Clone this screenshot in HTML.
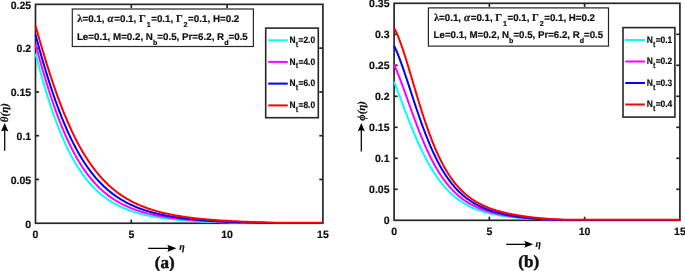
<!DOCTYPE html>
<html><head><meta charset="utf-8"><style>
html,body{margin:0;padding:0;background:#fff;}
body{width:685px;height:271px;overflow:hidden;}
svg{display:block;will-change:transform;text-rendering:geometricPrecision;}
text{font-family:"Liberation Sans",sans-serif;font-weight:bold;fill:#111;stroke:#111;stroke-width:0.2px;}
.tick text{font-size:10.5px;}
.info{font-size:9.8px;}
.lam{font-family:"Liberation Serif",serif;font-size:10.6px;font-weight:bold;}
.alp{font-family:"Liberation Serif",serif;font-style:italic;font-size:11.2px;font-weight:bold;}
.gam{font-family:"Liberation Serif",serif;font-size:10.6px;font-weight:bold;}
.sub{font-size:7.2px;}
.leg{font-size:9.3px;}
.lsub{font-size:8px;}
.lab{font-family:"Liberation Serif",serif;font-size:17px;stroke-width:0.5px;}
.axl{font-family:"Liberation Serif",serif;font-style:italic;font-size:10px;font-weight:bold;}
.ayl{font-family:"Liberation Serif",serif;font-style:italic;font-size:11px;font-weight:bold;}
</style></head><body>
<svg width="685" height="271" viewBox="0 0 685 271">
<g stroke="#262626" stroke-width="1.7" fill="none">
<rect x="35.5" y="4.35" width="287.40" height="218.90"/>
<line x1="131.30" y1="223.25" x2="131.30" y2="219.65"/>
<line x1="131.30" y1="4.35" x2="131.30" y2="7.949999999999999"/>
<line x1="227.10" y1="223.25" x2="227.10" y2="219.65"/>
<line x1="227.10" y1="4.35" x2="227.10" y2="7.949999999999999"/>
<line x1="35.5" y1="179.47" x2="39.1" y2="179.47"/>
<line x1="322.9" y1="179.47" x2="319.29999999999995" y2="179.47"/>
<line x1="35.5" y1="135.69" x2="39.1" y2="135.69"/>
<line x1="322.9" y1="135.69" x2="319.29999999999995" y2="135.69"/>
<line x1="35.5" y1="91.91" x2="39.1" y2="91.91"/>
<line x1="322.9" y1="91.91" x2="319.29999999999995" y2="91.91"/>
<line x1="35.5" y1="48.13" x2="39.1" y2="48.13"/>
<line x1="322.9" y1="48.13" x2="319.29999999999995" y2="48.13"/>
<rect x="394.1" y="3.3" width="285.80" height="217.00"/>
<line x1="489.37" y1="220.3" x2="489.37" y2="216.70000000000002"/>
<line x1="489.37" y1="3.3" x2="489.37" y2="6.9"/>
<line x1="584.63" y1="220.3" x2="584.63" y2="216.70000000000002"/>
<line x1="584.63" y1="3.3" x2="584.63" y2="6.9"/>
<line x1="394.1" y1="189.30" x2="397.70000000000005" y2="189.30"/>
<line x1="679.9" y1="189.30" x2="676.3" y2="189.30"/>
<line x1="394.1" y1="158.30" x2="397.70000000000005" y2="158.30"/>
<line x1="679.9" y1="158.30" x2="676.3" y2="158.30"/>
<line x1="394.1" y1="127.30" x2="397.70000000000005" y2="127.30"/>
<line x1="679.9" y1="127.30" x2="676.3" y2="127.30"/>
<line x1="394.1" y1="96.30" x2="397.70000000000005" y2="96.30"/>
<line x1="679.9" y1="96.30" x2="676.3" y2="96.30"/>
<line x1="394.1" y1="65.30" x2="397.70000000000005" y2="65.30"/>
<line x1="679.9" y1="65.30" x2="676.3" y2="65.30"/>
<line x1="394.1" y1="34.30" x2="397.70000000000005" y2="34.30"/>
<line x1="679.9" y1="34.30" x2="676.3" y2="34.30"/>
</g>
<g fill="none" stroke-width="2" stroke-linejoin="round" stroke-linecap="butt">
<path d="M35.5,53.67 L36.5,57.50 L37.5,61.29 L38.5,65.02 L39.5,68.70 L40.5,72.32 L41.5,75.89 L42.5,79.40 L43.5,82.85 L44.5,86.25 L45.5,89.58 L46.5,92.86 L47.5,96.08 L48.5,99.24 L49.5,102.34 L50.5,105.39 L51.5,108.37 L52.5,111.29 L53.5,114.16 L54.5,116.97 L55.5,119.71 L56.5,122.40 L57.5,125.04 L58.5,127.61 L59.5,130.13 L60.5,132.60 L61.5,135.00 L62.5,137.36 L63.5,139.66 L64.5,141.90 L65.5,144.10 L66.5,146.24 L67.5,148.33 L68.5,150.37 L69.5,152.35 L70.5,154.30 L71.5,156.19 L72.5,158.03 L73.5,159.83 L74.5,161.58 L75.5,163.29 L76.5,164.96 L77.5,166.58 L78.5,168.16 L79.5,169.69 L80.5,171.19 L81.5,172.65 L82.5,174.07 L83.5,175.45 L84.5,176.79 L85.5,178.10 L86.5,179.37 L87.5,180.61 L88.5,181.81 L89.5,182.98 L90.5,184.12 L91.5,185.23 L92.5,186.30 L93.5,187.35 L94.5,188.36 L95.5,189.35 L96.5,190.31 L97.5,191.24 L98.5,192.15 L99.5,193.03 L100.5,193.89 L101.5,194.72 L102.5,195.53 L103.5,196.31 L104.5,197.07 L105.5,197.81 L106.5,198.53 L107.5,199.23 L108.5,199.91 L109.5,200.57 L110.5,201.21 L111.5,201.83 L112.5,202.43 L113.5,203.02 L114.5,203.59 L115.5,204.14 L116.5,204.67 L117.5,205.19 L118.5,205.70 L119.5,206.19 L120.5,206.67 L121.5,207.13 L122.5,207.58 L123.5,208.02 L124.5,208.44 L125.5,208.85 L126.5,209.25 L127.5,209.64 L128.5,210.01 L129.5,210.38 L130.5,210.73 L131.5,211.08 L132.5,211.41 L133.5,211.74 L134.5,212.05 L135.5,212.36 L136.5,212.66 L137.5,212.95 L138.5,213.23 L139.5,213.50 L140.5,213.76 L141.5,214.02 L142.5,214.27 L143.5,214.51 L144.5,214.75 L145.5,214.98 L146.5,215.20 L147.5,215.42 L148.5,215.63 L149.5,215.83 L150.5,216.03 L151.5,216.22 L152.5,216.41 L153.5,216.59 L154.5,216.77 L155.5,216.94 L156.5,217.11 L157.5,217.27 L158.5,217.43 L159.5,217.58 L160.5,217.73 L161.5,217.88 L162.5,218.02 L163.5,218.16 L164.5,218.29 L165.5,218.42 L166.5,218.55 L167.5,218.67 L168.5,218.79 L169.5,218.91 L170.5,219.02 L171.5,219.13 L172.5,219.24 L173.5,219.34 L174.5,219.45 L175.5,219.54 L176.5,219.64 L177.5,219.74 L178.5,219.83 L179.5,219.92 L180.5,220.00 L181.5,220.09 L182.5,220.17 L183.5,220.25 L184.5,220.33 L185.5,220.40 L186.5,220.48 L187.5,220.55 L188.5,220.62 L189.5,220.69 L190.5,220.75 L191.5,220.82 L192.5,220.88 L193.5,220.94 L194.5,221.01 L195.5,221.06 L196.5,221.12 L197.5,221.18 L198.5,221.23 L199.5,221.28 L200.5,221.34 L201.5,221.39 L202.5,221.44 L203.5,221.48 L204.5,221.53 L205.5,221.58 L206.5,221.62 L207.5,221.66 L208.5,221.71 L209.5,221.75 L210.5,221.79 L211.5,221.83 L212.5,221.87 L213.5,221.90 L214.5,221.94 L215.5,221.98 L216.5,222.01 L217.5,222.05 L218.5,222.08 L219.5,222.11 L220.5,222.14 L221.5,222.17 L222.5,222.20 L223.5,222.23 L224.5,222.26 L225.5,222.29 L226.5,222.32 L227.5,222.34 L228.5,222.37 L229.5,222.40 L230.5,222.42 L231.5,222.45 L232.5,222.47 L233.5,222.49 L234.5,222.51 L235.5,222.54 L239.5,222.62 L243.5,222.69 L247.5,222.76 L251.5,222.82 L255.5,222.88 L259.5,222.93 L263.5,222.97 L267.5,223.01 L271.5,223.05 L275.5,223.05 L279.5,223.05 L283.5,223.05 L287.5,223.05 L291.5,223.05 L295.5,223.05 L299.5,223.05 L303.5,223.05 L307.5,223.05 L311.5,223.05 L315.5,223.05 L319.5,223.05 L322.9,223.05" stroke="#00ffff"/>
<path d="M35.5,44.17 L36.5,47.90 L37.5,51.59 L38.5,55.24 L39.5,58.84 L40.5,62.41 L41.5,65.93 L42.5,69.41 L43.5,72.84 L44.5,76.22 L45.5,79.55 L46.5,82.84 L47.5,86.07 L48.5,89.25 L49.5,92.38 L50.5,95.46 L51.5,98.49 L52.5,101.46 L53.5,104.38 L54.5,107.25 L55.5,110.07 L56.5,112.83 L57.5,115.54 L58.5,118.20 L59.5,120.80 L60.5,123.35 L61.5,125.85 L62.5,128.30 L63.5,130.70 L64.5,133.04 L65.5,135.34 L66.5,137.58 L67.5,139.78 L68.5,141.93 L69.5,144.03 L70.5,146.08 L71.5,148.08 L72.5,150.04 L73.5,151.95 L74.5,153.81 L75.5,155.64 L76.5,157.41 L77.5,159.15 L78.5,160.84 L79.5,162.49 L80.5,164.10 L81.5,165.67 L82.5,167.20 L83.5,168.70 L84.5,170.15 L85.5,171.57 L86.5,172.95 L87.5,174.30 L88.5,175.61 L89.5,176.88 L90.5,178.13 L91.5,179.34 L92.5,180.52 L93.5,181.67 L94.5,182.78 L95.5,183.87 L96.5,184.93 L97.5,185.96 L98.5,186.96 L99.5,187.94 L100.5,188.89 L101.5,189.81 L102.5,190.71 L103.5,191.59 L104.5,192.44 L105.5,193.26 L106.5,194.07 L107.5,194.85 L108.5,195.61 L109.5,196.35 L110.5,197.07 L111.5,197.77 L112.5,198.45 L113.5,199.11 L114.5,199.75 L115.5,200.38 L116.5,200.99 L117.5,201.58 L118.5,202.15 L119.5,202.71 L120.5,203.26 L121.5,203.78 L122.5,204.30 L123.5,204.80 L124.5,205.28 L125.5,205.75 L126.5,206.21 L127.5,206.66 L128.5,207.09 L129.5,207.51 L130.5,207.92 L131.5,208.32 L132.5,208.71 L133.5,209.09 L134.5,209.45 L135.5,209.81 L136.5,210.16 L137.5,210.49 L138.5,210.82 L139.5,211.14 L140.5,211.45 L141.5,211.75 L142.5,212.05 L143.5,212.33 L144.5,212.61 L145.5,212.88 L146.5,213.14 L147.5,213.40 L148.5,213.65 L149.5,213.89 L150.5,214.12 L151.5,214.35 L152.5,214.58 L153.5,214.79 L154.5,215.00 L155.5,215.21 L156.5,215.41 L157.5,215.61 L158.5,215.80 L159.5,215.98 L160.5,216.16 L161.5,216.34 L162.5,216.51 L163.5,216.67 L164.5,216.83 L165.5,216.99 L166.5,217.15 L167.5,217.30 L168.5,217.44 L169.5,217.58 L170.5,217.72 L171.5,217.86 L172.5,217.99 L173.5,218.12 L174.5,218.24 L175.5,218.36 L176.5,218.48 L177.5,218.60 L178.5,218.71 L179.5,218.82 L180.5,218.93 L181.5,219.03 L182.5,219.14 L183.5,219.24 L184.5,219.33 L185.5,219.43 L186.5,219.52 L187.5,219.61 L188.5,219.70 L189.5,219.79 L190.5,219.87 L191.5,219.95 L192.5,220.03 L193.5,220.11 L194.5,220.19 L195.5,220.26 L196.5,220.34 L197.5,220.41 L198.5,220.48 L199.5,220.55 L200.5,220.61 L201.5,220.68 L202.5,220.74 L203.5,220.80 L204.5,220.86 L205.5,220.92 L206.5,220.98 L207.5,221.04 L208.5,221.09 L209.5,221.15 L210.5,221.20 L211.5,221.25 L212.5,221.30 L213.5,221.35 L214.5,221.40 L215.5,221.45 L216.5,221.49 L217.5,221.54 L218.5,221.58 L219.5,221.63 L220.5,221.67 L221.5,221.71 L222.5,221.75 L223.5,221.79 L224.5,221.83 L225.5,221.87 L226.5,221.91 L227.5,221.94 L228.5,221.98 L229.5,222.01 L230.5,222.05 L231.5,222.08 L232.5,222.11 L233.5,222.14 L234.5,222.17 L235.5,222.21 L239.5,222.32 L243.5,222.43 L247.5,222.52 L251.5,222.61 L255.5,222.69 L259.5,222.76 L263.5,222.82 L267.5,222.88 L271.5,222.93 L275.5,222.95 L279.5,222.95 L283.5,222.95 L287.5,222.95 L291.5,222.95 L295.5,222.95 L299.5,222.95 L303.5,222.95 L307.5,222.95 L311.5,222.95 L315.5,222.95 L319.5,222.95 L322.9,222.95" stroke="#ff00ff"/>
<path d="M35.5,34.86 L36.5,38.56 L37.5,42.22 L38.5,45.85 L39.5,49.43 L40.5,52.98 L41.5,56.48 L42.5,59.94 L43.5,63.36 L44.5,66.74 L45.5,70.07 L46.5,73.35 L47.5,76.58 L48.5,79.77 L49.5,82.91 L50.5,86.00 L51.5,89.05 L52.5,92.04 L53.5,94.98 L54.5,97.88 L55.5,100.72 L56.5,103.52 L57.5,106.27 L58.5,108.96 L59.5,111.61 L60.5,114.21 L61.5,116.75 L62.5,119.25 L63.5,121.71 L64.5,124.11 L65.5,126.46 L66.5,128.77 L67.5,131.03 L68.5,133.25 L69.5,135.41 L70.5,137.54 L71.5,139.61 L72.5,141.65 L73.5,143.64 L74.5,145.58 L75.5,147.48 L76.5,149.35 L77.5,151.16 L78.5,152.94 L79.5,154.68 L80.5,156.38 L81.5,158.04 L82.5,159.66 L83.5,161.24 L84.5,162.79 L85.5,164.30 L86.5,165.77 L87.5,167.21 L88.5,168.62 L89.5,169.99 L90.5,171.32 L91.5,172.63 L92.5,173.90 L93.5,175.15 L94.5,176.36 L95.5,177.54 L96.5,178.69 L97.5,179.82 L98.5,180.92 L99.5,181.99 L100.5,183.03 L101.5,184.05 L102.5,185.04 L103.5,186.00 L104.5,186.94 L105.5,187.86 L106.5,188.76 L107.5,189.63 L108.5,190.48 L109.5,191.31 L110.5,192.12 L111.5,192.90 L112.5,193.67 L113.5,194.42 L114.5,195.14 L115.5,195.85 L116.5,196.54 L117.5,197.22 L118.5,197.87 L119.5,198.51 L120.5,199.13 L121.5,199.74 L122.5,200.33 L123.5,200.91 L124.5,201.47 L125.5,202.01 L126.5,202.55 L127.5,203.06 L128.5,203.57 L129.5,204.06 L130.5,204.54 L131.5,205.01 L132.5,205.46 L133.5,205.91 L134.5,206.34 L135.5,206.76 L136.5,207.17 L137.5,207.57 L138.5,207.96 L139.5,208.34 L140.5,208.71 L141.5,209.07 L142.5,209.42 L143.5,209.76 L144.5,210.10 L145.5,210.42 L146.5,210.74 L147.5,211.05 L148.5,211.35 L149.5,211.64 L150.5,211.93 L151.5,212.21 L152.5,212.48 L153.5,212.74 L154.5,213.00 L155.5,213.25 L156.5,213.50 L157.5,213.74 L158.5,213.97 L159.5,214.20 L160.5,214.42 L161.5,214.64 L162.5,214.85 L163.5,215.06 L164.5,215.26 L165.5,215.46 L166.5,215.65 L167.5,215.84 L168.5,216.02 L169.5,216.20 L170.5,216.37 L171.5,216.54 L172.5,216.70 L173.5,216.87 L174.5,217.02 L175.5,217.18 L176.5,217.33 L177.5,217.47 L178.5,217.62 L179.5,217.76 L180.5,217.89 L181.5,218.03 L182.5,218.16 L183.5,218.28 L184.5,218.41 L185.5,218.53 L186.5,218.65 L187.5,218.76 L188.5,218.88 L189.5,218.99 L190.5,219.09 L191.5,219.20 L192.5,219.30 L193.5,219.40 L194.5,219.50 L195.5,219.60 L196.5,219.69 L197.5,219.78 L198.5,219.87 L199.5,219.96 L200.5,220.04 L201.5,220.13 L202.5,220.21 L203.5,220.29 L204.5,220.37 L205.5,220.44 L206.5,220.52 L207.5,220.59 L208.5,220.66 L209.5,220.73 L210.5,220.80 L211.5,220.87 L212.5,220.93 L213.5,220.99 L214.5,221.06 L215.5,221.12 L216.5,221.18 L217.5,221.23 L218.5,221.29 L219.5,221.34 L220.5,221.40 L221.5,221.45 L222.5,221.50 L223.5,221.55 L224.5,221.60 L225.5,221.65 L226.5,221.70 L227.5,221.74 L228.5,221.79 L229.5,221.83 L230.5,221.87 L231.5,221.92 L232.5,221.96 L233.5,222.00 L234.5,222.04 L235.5,222.07 L239.5,222.22 L243.5,222.34 L247.5,222.46 L251.5,222.56 L255.5,222.66 L259.5,222.74 L263.5,222.82 L267.5,222.88 L271.5,222.90 L275.5,222.90 L279.5,222.90 L283.5,222.90 L287.5,222.90 L291.5,222.90 L295.5,222.90 L299.5,222.90 L303.5,222.90 L307.5,222.90 L311.5,222.90 L315.5,222.90 L319.5,222.90 L322.9,222.90" stroke="#0000ff"/>
<path d="M35.5,25.58 L36.5,29.15 L37.5,32.69 L38.5,36.21 L39.5,39.69 L40.5,43.15 L41.5,46.57 L42.5,49.96 L43.5,53.31 L44.5,56.63 L45.5,59.91 L46.5,63.16 L47.5,66.36 L48.5,69.52 L49.5,72.65 L50.5,75.73 L51.5,78.77 L52.5,81.77 L53.5,84.72 L54.5,87.63 L55.5,90.50 L56.5,93.33 L57.5,96.10 L58.5,98.84 L59.5,101.53 L60.5,104.18 L61.5,106.78 L62.5,109.34 L63.5,111.85 L64.5,114.32 L65.5,116.74 L66.5,119.12 L67.5,121.46 L68.5,123.75 L69.5,126.00 L70.5,128.21 L71.5,130.38 L72.5,132.50 L73.5,134.58 L74.5,136.62 L75.5,138.62 L76.5,140.57 L77.5,142.49 L78.5,144.37 L79.5,146.21 L80.5,148.01 L81.5,149.77 L82.5,151.50 L83.5,153.18 L84.5,154.83 L85.5,156.45 L86.5,158.03 L87.5,159.57 L88.5,161.08 L89.5,162.56 L90.5,164.00 L91.5,165.42 L92.5,166.80 L93.5,168.14 L94.5,169.46 L95.5,170.75 L96.5,172.00 L97.5,173.23 L98.5,174.43 L99.5,175.60 L100.5,176.74 L101.5,177.86 L102.5,178.95 L103.5,180.01 L104.5,181.05 L105.5,182.07 L106.5,183.06 L107.5,184.02 L108.5,184.97 L109.5,185.89 L110.5,186.79 L111.5,187.66 L112.5,188.52 L113.5,189.35 L114.5,190.16 L115.5,190.96 L116.5,191.73 L117.5,192.49 L118.5,193.23 L119.5,193.94 L120.5,194.65 L121.5,195.33 L122.5,196.00 L123.5,196.65 L124.5,197.28 L125.5,197.90 L126.5,198.51 L127.5,199.09 L128.5,199.67 L129.5,200.23 L130.5,200.78 L131.5,201.31 L132.5,201.83 L133.5,202.33 L134.5,202.83 L135.5,203.31 L136.5,203.78 L137.5,204.24 L138.5,204.69 L139.5,205.12 L140.5,205.55 L141.5,205.96 L142.5,206.37 L143.5,206.76 L144.5,207.15 L145.5,207.52 L146.5,207.89 L147.5,208.25 L148.5,208.60 L149.5,208.94 L150.5,209.27 L151.5,209.59 L152.5,209.91 L153.5,210.21 L154.5,210.51 L155.5,210.81 L156.5,211.09 L157.5,211.37 L158.5,211.65 L159.5,211.91 L160.5,212.17 L161.5,212.42 L162.5,212.67 L163.5,212.91 L164.5,213.15 L165.5,213.38 L166.5,213.60 L167.5,213.82 L168.5,214.04 L169.5,214.25 L170.5,214.45 L171.5,214.65 L172.5,214.84 L173.5,215.03 L174.5,215.22 L175.5,215.40 L176.5,215.58 L177.5,215.75 L178.5,215.92 L179.5,216.08 L180.5,216.25 L181.5,216.40 L182.5,216.56 L183.5,216.71 L184.5,216.85 L185.5,217.00 L186.5,217.14 L187.5,217.28 L188.5,217.41 L189.5,217.54 L190.5,217.67 L191.5,217.79 L192.5,217.92 L193.5,218.04 L194.5,218.15 L195.5,218.27 L196.5,218.38 L197.5,218.49 L198.5,218.60 L199.5,218.70 L200.5,218.81 L201.5,218.91 L202.5,219.01 L203.5,219.10 L204.5,219.20 L205.5,219.29 L206.5,219.38 L207.5,219.47 L208.5,219.55 L209.5,219.64 L210.5,219.72 L211.5,219.80 L212.5,219.88 L213.5,219.96 L214.5,220.03 L215.5,220.11 L216.5,220.18 L217.5,220.25 L218.5,220.32 L219.5,220.39 L220.5,220.46 L221.5,220.52 L222.5,220.59 L223.5,220.65 L224.5,220.71 L225.5,220.77 L226.5,220.83 L227.5,220.89 L228.5,220.95 L229.5,221.00 L230.5,221.06 L231.5,221.11 L232.5,221.16 L233.5,221.22 L234.5,221.27 L235.5,221.32 L239.5,221.50 L243.5,221.67 L247.5,221.83 L251.5,221.98 L255.5,222.11 L259.5,222.24 L263.5,222.35 L267.5,222.45 L271.5,222.55 L275.5,222.63 L279.5,222.71 L283.5,222.75 L287.5,222.75 L291.5,222.75 L295.5,222.75 L299.5,222.75 L303.5,222.75 L307.5,222.75 L311.5,222.75 L315.5,222.75 L319.5,222.75 L322.9,222.75" stroke="#ff0000"/>
<path d="M394.1,81.63 L395.1,84.20 L396.1,86.80 L397.1,89.41 L398.1,92.04 L399.1,94.69 L400.1,97.34 L401.1,99.99 L402.1,102.65 L403.1,105.30 L404.1,107.94 L405.1,110.57 L406.1,113.18 L407.1,115.78 L408.1,118.36 L409.1,120.91 L410.1,123.44 L411.1,125.94 L412.1,128.41 L413.1,130.85 L414.1,133.25 L415.1,135.62 L416.1,137.95 L417.1,140.25 L418.1,142.50 L419.1,144.72 L420.1,146.89 L421.1,149.02 L422.1,151.11 L423.1,153.16 L424.1,155.16 L425.1,157.12 L426.1,159.04 L427.1,160.91 L428.1,162.74 L429.1,164.52 L430.1,166.26 L431.1,167.96 L432.1,169.62 L433.1,171.23 L434.1,172.80 L435.1,174.32 L436.1,175.81 L437.1,177.25 L438.1,178.66 L439.1,180.02 L440.1,181.35 L441.1,182.64 L442.1,183.89 L443.1,185.10 L444.1,186.28 L445.1,187.42 L446.1,188.52 L447.1,189.60 L448.1,190.63 L449.1,191.64 L450.1,192.61 L451.1,193.56 L452.1,194.47 L453.1,195.36 L454.1,196.21 L455.1,197.04 L456.1,197.84 L457.1,198.61 L458.1,199.36 L459.1,200.08 L460.1,200.78 L461.1,201.46 L462.1,202.11 L463.1,202.74 L464.1,203.35 L465.1,203.94 L466.1,204.51 L467.1,205.06 L468.1,205.59 L469.1,206.10 L470.1,206.59 L471.1,207.07 L472.1,207.53 L473.1,207.97 L474.1,208.40 L475.1,208.81 L476.1,209.21 L477.1,209.60 L478.1,209.97 L479.1,210.33 L480.1,210.67 L481.1,211.01 L482.1,211.33 L483.1,211.64 L484.1,211.94 L485.1,212.23 L486.1,212.51 L487.1,212.78 L488.1,213.04 L489.1,213.29 L490.1,213.53 L491.1,213.76 L492.1,213.99 L493.1,214.20 L494.1,214.41 L495.1,214.62 L496.1,214.81 L497.1,215.00 L498.1,215.18 L499.1,215.36 L500.1,215.52 L501.1,215.69 L502.1,215.85 L503.1,216.00 L504.1,216.14 L505.1,216.29 L506.1,216.42 L507.1,216.55 L508.1,216.68 L509.1,216.81 L510.1,216.92 L511.1,217.04 L512.1,217.15 L513.1,217.26 L514.1,217.36 L515.1,217.46 L516.1,217.56 L517.1,217.65 L518.1,217.74 L519.1,217.83 L520.1,217.91 L521.1,217.99 L522.1,218.07 L523.1,218.15 L524.1,218.22 L525.1,218.29 L526.1,218.36 L527.1,218.43 L528.1,218.49 L529.1,218.55 L530.1,218.61 L531.1,218.67 L532.1,218.73 L533.1,218.78 L534.1,218.84 L535.1,218.89 L536.1,218.94 L537.1,218.98 L538.1,219.03 L539.1,219.07 L540.1,219.12 L541.1,219.16 L542.1,219.20 L543.1,219.24 L544.1,219.28 L545.1,219.31 L546.1,219.35 L547.1,219.38 L548.1,219.42 L549.1,219.45 L550.1,219.48 L551.1,219.51 L552.1,219.54 L553.1,219.57 L554.1,219.60 L555.1,219.62 L556.1,219.65 L557.1,219.67 L558.1,219.70 L559.1,219.72 L560.1,219.74 L561.1,219.76 L562.1,219.78 L563.1,219.80 L564.1,219.82 L565.1,219.84 L566.1,219.86 L567.1,219.88 L568.1,219.90 L569.1,219.91 L570.1,219.93 L571.1,219.94 L572.1,219.96 L573.1,219.97 L574.1,219.99 L575.1,220.00 L576.1,220.01 L577.1,220.03 L578.1,220.04 L579.1,220.05 L580.1,220.06 L581.1,220.07 L582.1,220.08 L583.1,220.09 L584.1,220.10 L585.1,220.10 L586.1,220.10 L587.1,220.10 L588.1,220.10 L589.1,220.10 L590.1,220.10 L591.1,220.10 L592.1,220.10 L593.1,220.10 L594.1,220.10 L598.1,220.10 L602.1,220.10 L606.1,220.10 L610.1,220.10 L614.1,220.10 L618.1,220.10 L622.1,220.10 L626.1,220.10 L630.1,220.10 L634.1,220.10 L638.1,220.10 L642.1,220.10 L646.1,220.10 L650.1,220.10 L654.1,220.10 L658.1,220.10 L662.1,220.10 L666.1,220.10 L670.1,220.10 L674.1,220.10 L678.1,220.10 L679.9,220.10" stroke="#00ffff"/>
<path d="M394.1,64.69 L395.1,66.92 L396.1,69.23 L397.1,71.63 L398.1,74.10 L399.1,76.63 L400.1,79.23 L401.1,81.87 L402.1,84.55 L403.1,87.27 L404.1,90.02 L405.1,92.79 L406.1,95.58 L407.1,98.38 L408.1,101.18 L409.1,103.98 L410.1,106.78 L411.1,109.56 L412.1,112.33 L413.1,115.09 L414.1,117.82 L415.1,120.52 L416.1,123.19 L417.1,125.84 L418.1,128.44 L419.1,131.01 L420.1,133.54 L421.1,136.03 L422.1,138.47 L423.1,140.87 L424.1,143.23 L425.1,145.54 L426.1,147.79 L427.1,150.00 L428.1,152.16 L429.1,154.27 L430.1,156.33 L431.1,158.34 L432.1,160.30 L433.1,162.21 L434.1,164.07 L435.1,165.88 L436.1,167.64 L437.1,169.35 L438.1,171.02 L439.1,172.63 L440.1,174.20 L441.1,175.73 L442.1,177.20 L443.1,178.64 L444.1,180.03 L445.1,181.37 L446.1,182.68 L447.1,183.94 L448.1,185.17 L449.1,186.35 L450.1,187.50 L451.1,188.60 L452.1,189.68 L453.1,190.72 L454.1,191.72 L455.1,192.69 L456.1,193.63 L457.1,194.53 L458.1,195.41 L459.1,196.25 L460.1,197.07 L461.1,197.86 L462.1,198.62 L463.1,199.36 L464.1,200.07 L465.1,200.76 L466.1,201.42 L467.1,202.06 L468.1,202.68 L469.1,203.27 L470.1,203.85 L471.1,204.41 L472.1,204.94 L473.1,205.46 L474.1,205.96 L475.1,206.45 L476.1,206.91 L477.1,207.36 L478.1,207.80 L479.1,208.22 L480.1,208.63 L481.1,209.02 L482.1,209.40 L483.1,209.76 L484.1,210.12 L485.1,210.46 L486.1,210.79 L487.1,211.11 L488.1,211.41 L489.1,211.71 L490.1,212.00 L491.1,212.28 L492.1,212.55 L493.1,212.81 L494.1,213.06 L495.1,213.30 L496.1,213.54 L497.1,213.77 L498.1,213.99 L499.1,214.20 L500.1,214.41 L501.1,214.61 L502.1,214.80 L503.1,214.99 L504.1,215.17 L505.1,215.35 L506.1,215.52 L507.1,215.68 L508.1,215.84 L509.1,216.00 L510.1,216.15 L511.1,216.29 L512.1,216.44 L513.1,216.57 L514.1,216.71 L515.1,216.83 L516.1,216.96 L517.1,217.08 L518.1,217.20 L519.1,217.31 L520.1,217.42 L521.1,217.53 L522.1,217.63 L523.1,217.73 L524.1,217.83 L525.1,217.93 L526.1,218.02 L527.1,218.11 L528.1,218.19 L529.1,218.28 L530.1,218.36 L531.1,218.44 L532.1,218.51 L533.1,218.59 L534.1,218.66 L535.1,218.73 L536.1,218.79 L537.1,218.86 L538.1,218.92 L539.1,218.98 L540.1,219.04 L541.1,219.10 L542.1,219.15 L543.1,219.21 L544.1,219.26 L545.1,219.31 L546.1,219.36 L547.1,219.40 L548.1,219.45 L549.1,219.49 L550.1,219.53 L551.1,219.57 L552.1,219.61 L553.1,219.65 L554.1,219.68 L555.1,219.72 L556.1,219.75 L557.1,219.78 L558.1,219.81 L559.1,219.84 L560.1,219.87 L561.1,219.89 L562.1,219.92 L563.1,219.94 L564.1,219.96 L565.1,219.98 L566.1,220.00 L567.1,220.00 L568.1,220.00 L569.1,220.00 L570.1,220.00 L571.1,220.00 L572.1,220.00 L573.1,220.00 L574.1,220.00 L575.1,220.00 L576.1,220.00 L577.1,220.00 L578.1,220.00 L579.1,220.00 L580.1,220.00 L581.1,220.00 L582.1,220.00 L583.1,220.00 L584.1,220.00 L585.1,220.00 L586.1,220.00 L587.1,220.00 L588.1,220.00 L589.1,220.00 L590.1,220.00 L591.1,220.00 L592.1,220.00 L593.1,220.00 L594.1,220.00 L598.1,220.00 L602.1,220.00 L606.1,220.00 L610.1,220.00 L614.1,220.00 L618.1,220.00 L622.1,220.00 L626.1,220.00 L630.1,220.00 L634.1,220.00 L638.1,220.00 L642.1,220.00 L646.1,220.00 L650.1,220.00 L654.1,220.00 L658.1,220.00 L662.1,220.00 L666.1,220.00 L670.1,220.00 L674.1,220.00 L678.1,220.00 L679.9,220.00" stroke="#ff00ff"/>
<path d="M394.1,45.79 L395.1,47.88 L396.1,50.11 L397.1,52.44 L398.1,54.89 L399.1,57.44 L400.1,60.07 L401.1,62.78 L402.1,65.57 L403.1,68.41 L404.1,71.31 L405.1,74.25 L406.1,77.23 L407.1,80.24 L408.1,83.27 L409.1,86.32 L410.1,89.38 L411.1,92.44 L412.1,95.49 L413.1,98.54 L414.1,101.57 L415.1,104.59 L416.1,107.58 L417.1,110.54 L418.1,113.47 L419.1,116.37 L420.1,119.23 L421.1,122.05 L422.1,124.83 L423.1,127.56 L424.1,130.24 L425.1,132.88 L426.1,135.46 L427.1,137.99 L428.1,140.47 L429.1,142.90 L430.1,145.27 L431.1,147.59 L432.1,149.85 L433.1,152.05 L434.1,154.20 L435.1,156.30 L436.1,158.34 L437.1,160.33 L438.1,162.26 L439.1,164.13 L440.1,165.96 L441.1,167.73 L442.1,169.45 L443.1,171.12 L444.1,172.74 L445.1,174.31 L446.1,175.84 L447.1,177.31 L448.1,178.74 L449.1,180.13 L450.1,181.47 L451.1,182.77 L452.1,184.02 L453.1,185.24 L454.1,186.42 L455.1,187.55 L456.1,188.65 L457.1,189.72 L458.1,190.75 L459.1,191.74 L460.1,192.70 L461.1,193.63 L462.1,194.53 L463.1,195.40 L464.1,196.23 L465.1,197.04 L466.1,197.83 L467.1,198.58 L468.1,199.31 L469.1,200.02 L470.1,200.70 L471.1,201.36 L472.1,201.99 L473.1,202.61 L474.1,203.20 L475.1,203.77 L476.1,204.33 L477.1,204.86 L478.1,205.38 L479.1,205.88 L480.1,206.36 L481.1,206.83 L482.1,207.28 L483.1,207.72 L484.1,208.14 L485.1,208.55 L486.1,208.94 L487.1,209.33 L488.1,209.70 L489.1,210.05 L490.1,210.40 L491.1,210.73 L492.1,211.06 L493.1,211.37 L494.1,211.67 L495.1,211.97 L496.1,212.25 L497.1,212.53 L498.1,212.79 L499.1,213.05 L500.1,213.30 L501.1,213.55 L502.1,213.78 L503.1,214.01 L504.1,214.23 L505.1,214.44 L506.1,214.65 L507.1,214.85 L508.1,215.05 L509.1,215.24 L510.1,215.42 L511.1,215.60 L512.1,215.77 L513.1,215.94 L514.1,216.10 L515.1,216.26 L516.1,216.42 L517.1,216.56 L518.1,216.71 L519.1,216.85 L520.1,216.98 L521.1,217.11 L522.1,217.24 L523.1,217.37 L524.1,217.49 L525.1,217.60 L526.1,217.71 L527.1,217.82 L528.1,217.93 L529.1,218.03 L530.1,218.13 L531.1,218.23 L532.1,218.32 L533.1,218.41 L534.1,218.50 L535.1,218.58 L536.1,218.66 L537.1,218.74 L538.1,218.82 L539.1,218.89 L540.1,218.96 L541.1,219.03 L542.1,219.09 L543.1,219.16 L544.1,219.22 L545.1,219.28 L546.1,219.33 L547.1,219.39 L548.1,219.44 L549.1,219.49 L550.1,219.53 L551.1,219.58 L552.1,219.62 L553.1,219.66 L554.1,219.70 L555.1,219.74 L556.1,219.78 L557.1,219.81 L558.1,219.84 L559.1,219.88 L560.1,219.91 L561.1,219.93 L562.1,219.95 L563.1,219.95 L564.1,219.95 L565.1,219.95 L566.1,219.95 L567.1,219.95 L568.1,219.95 L569.1,219.95 L570.1,219.95 L571.1,219.95 L572.1,219.95 L573.1,219.95 L574.1,219.95 L575.1,219.95 L576.1,219.95 L577.1,219.95 L578.1,219.95 L579.1,219.95 L580.1,219.95 L581.1,219.95 L582.1,219.95 L583.1,219.95 L584.1,219.95 L585.1,219.95 L586.1,219.95 L587.1,219.95 L588.1,219.95 L589.1,219.95 L590.1,219.95 L591.1,219.95 L592.1,219.95 L593.1,219.95 L594.1,219.95 L598.1,219.95 L602.1,219.95 L606.1,219.95 L610.1,219.95 L614.1,219.95 L618.1,219.95 L622.1,219.95 L626.1,219.95 L630.1,219.95 L634.1,219.95 L638.1,219.95 L642.1,219.95 L646.1,219.95 L650.1,219.95 L654.1,219.95 L658.1,219.95 L662.1,219.95 L666.1,219.95 L670.1,219.95 L674.1,219.95 L678.1,219.95 L679.9,219.95" stroke="#0000ff"/>
<path d="M394.1,28.00 L395.1,29.86 L396.1,31.90 L397.1,34.11 L398.1,36.47 L399.1,38.97 L400.1,41.60 L401.1,44.35 L402.1,47.21 L403.1,50.17 L404.1,53.21 L405.1,56.33 L406.1,59.51 L407.1,62.75 L408.1,66.03 L409.1,69.35 L410.1,72.69 L411.1,76.06 L412.1,79.44 L413.1,82.81 L414.1,86.19 L415.1,89.55 L416.1,92.90 L417.1,96.23 L418.1,99.53 L419.1,102.79 L420.1,106.02 L421.1,109.21 L422.1,112.35 L423.1,115.45 L424.1,118.49 L425.1,121.48 L426.1,124.41 L427.1,127.29 L428.1,130.11 L429.1,132.87 L430.1,135.56 L431.1,138.20 L432.1,140.77 L433.1,143.27 L434.1,145.71 L435.1,148.09 L436.1,150.41 L437.1,152.66 L438.1,154.85 L439.1,156.98 L440.1,159.04 L441.1,161.05 L442.1,162.99 L443.1,164.87 L444.1,166.70 L445.1,168.47 L446.1,170.19 L447.1,171.84 L448.1,173.45 L449.1,175.00 L450.1,176.51 L451.1,177.96 L452.1,179.37 L453.1,180.72 L454.1,182.03 L455.1,183.30 L456.1,184.53 L457.1,185.71 L458.1,186.85 L459.1,187.95 L460.1,189.02 L461.1,190.04 L462.1,191.03 L463.1,191.99 L464.1,192.91 L465.1,193.81 L466.1,194.67 L467.1,195.50 L468.1,196.30 L469.1,197.07 L470.1,197.82 L471.1,198.53 L472.1,199.23 L473.1,199.90 L474.1,200.55 L475.1,201.17 L476.1,201.78 L477.1,202.36 L478.1,202.92 L479.1,203.46 L480.1,203.99 L481.1,204.50 L482.1,204.99 L483.1,205.46 L484.1,205.92 L485.1,206.36 L486.1,206.79 L487.1,207.20 L488.1,207.60 L489.1,207.99 L490.1,208.37 L491.1,208.73 L492.1,209.08 L493.1,209.42 L494.1,209.75 L495.1,210.07 L496.1,210.38 L497.1,210.68 L498.1,210.97 L499.1,211.25 L500.1,211.53 L501.1,211.79 L502.1,212.05 L503.1,212.30 L504.1,212.55 L505.1,212.78 L506.1,213.02 L507.1,213.24 L508.1,213.46 L509.1,213.67 L510.1,213.88 L511.1,214.08 L512.1,214.27 L513.1,214.46 L514.1,214.65 L515.1,214.83 L516.1,215.00 L517.1,215.18 L518.1,215.34 L519.1,215.51 L520.1,215.66 L521.1,215.82 L522.1,215.97 L523.1,216.12 L524.1,216.26 L525.1,216.40 L526.1,216.54 L527.1,216.67 L528.1,216.80 L529.1,216.93 L530.1,217.06 L531.1,217.18 L532.1,217.29 L533.1,217.41 L534.1,217.52 L535.1,217.63 L536.1,217.74 L537.1,217.84 L538.1,217.94 L539.1,218.04 L540.1,218.14 L541.1,218.23 L542.1,218.32 L543.1,218.41 L544.1,218.50 L545.1,218.58 L546.1,218.66 L547.1,218.74 L548.1,218.81 L549.1,218.89 L550.1,218.96 L551.1,219.03 L552.1,219.09 L553.1,219.16 L554.1,219.22 L555.1,219.28 L556.1,219.34 L557.1,219.39 L558.1,219.45 L559.1,219.50 L560.1,219.55 L561.1,219.59 L562.1,219.64 L563.1,219.68 L564.1,219.72 L565.1,219.76 L566.1,219.80 L567.1,219.80 L568.1,219.80 L569.1,219.80 L570.1,219.80 L571.1,219.80 L572.1,219.80 L573.1,219.80 L574.1,219.80 L575.1,219.80 L576.1,219.80 L577.1,219.80 L578.1,219.80 L579.1,219.80 L580.1,219.80 L581.1,219.80 L582.1,219.80 L583.1,219.80 L584.1,219.80 L585.1,219.80 L586.1,219.80 L587.1,219.80 L588.1,219.80 L589.1,219.80 L590.1,219.80 L591.1,219.80 L592.1,219.80 L593.1,219.80 L594.1,219.80 L598.1,219.80 L602.1,219.80 L606.1,219.80 L610.1,219.80 L614.1,219.80 L618.1,219.80 L622.1,219.80 L626.1,219.80 L630.1,219.80 L634.1,219.80 L638.1,219.80 L642.1,219.80 L646.1,219.80 L650.1,219.80 L654.1,219.80 L658.1,219.80 L662.1,219.80 L666.1,219.80 L670.1,219.80 L674.1,219.80 L678.1,219.80 L679.9,219.80" stroke="#ff0000"/>
</g>
<g class="tick">
<text x="31.20" y="227.55" text-anchor="end">0</text>
<text x="31.20" y="183.77" text-anchor="end">0.05</text>
<text x="31.20" y="139.99" text-anchor="end">0.1</text>
<text x="31.20" y="96.21" text-anchor="end">0.15</text>
<text x="31.20" y="52.43" text-anchor="end">0.2</text>
<text x="31.20" y="8.65" text-anchor="end">0.25</text>
<text x="35.50" y="238.4" text-anchor="middle">0</text>
<text x="131.30" y="238.4" text-anchor="middle">5</text>
<text x="227.10" y="238.4" text-anchor="middle">10</text>
<text x="322.90" y="238.4" text-anchor="middle">15</text>
<text x="389.50" y="224.30" text-anchor="end">0</text>
<text x="389.50" y="193.30" text-anchor="end">0.05</text>
<text x="389.50" y="162.30" text-anchor="end">0.1</text>
<text x="389.50" y="131.30" text-anchor="end">0.15</text>
<text x="389.50" y="100.30" text-anchor="end">0.2</text>
<text x="389.50" y="69.30" text-anchor="end">0.25</text>
<text x="389.50" y="38.30" text-anchor="end">0.3</text>
<text x="389.50" y="7.30" text-anchor="end">0.35</text>
<text x="394.10" y="235.3" text-anchor="middle">0</text>
<text x="489.37" y="235.3" text-anchor="middle">5</text>
<text x="584.63" y="235.3" text-anchor="middle">10</text>
<text x="679.90" y="235.3" text-anchor="middle">15</text>
</g>
<rect x="72.3" y="9.0" width="181.10" height="37.50" fill="#fff" stroke="#262626" stroke-width="1.2"/>
<text class="info" x="77.20" y="22.4"><tspan class="lam">λ</tspan>=0.1, <tspan class="alp" dx="0.4">α</tspan><tspan dx="0.4">=0.1, </tspan><tspan class="gam">Γ</tspan><tspan class="sub" dx="0.9" dy="4.8">1</tspan><tspan dx="0.5" dy="-4.8">=0.1, </tspan><tspan class="gam">Γ</tspan><tspan class="sub" dx="0.9" dy="4.8">2</tspan><tspan dx="0.5" dy="-4.8">=0.1, H=0.2</tspan></text>
<text class="info" x="76.9" y="39.7" textLength="170.9" lengthAdjust="spacingAndGlyphs">Le=0.1, M=0.2, N<tspan class="sub" dy="4.8">b</tspan><tspan dy="-4.8">=0.5, Pr=6.2, R</tspan><tspan class="sub" dy="4.8">d</tspan><tspan dy="-4.8">=0.5</tspan></text>
<rect x="428.4" y="7.9" width="180.10" height="38.20" fill="#fff" stroke="#262626" stroke-width="1.2"/>
<text class="info" x="433.90" y="21.4" style="font-size:9.72px"><tspan class="lam">λ</tspan>=0.1, <tspan class="alp" dx="0.4">α</tspan><tspan dx="0.4">=0.1, </tspan><tspan class="gam">Γ</tspan><tspan class="sub" dx="0.9" dy="4.8">1</tspan><tspan dx="0.5" dy="-4.8">=0.1, </tspan><tspan class="gam">Γ</tspan><tspan class="sub" dx="0.9" dy="4.8">2</tspan><tspan dx="0.5" dy="-4.8">=0.1, H=0.2</tspan></text>
<text class="info" x="433.6" y="37.7" textLength="169.6" lengthAdjust="spacingAndGlyphs">Le=0.1, M=0.2, N<tspan class="sub" dy="4.8">b</tspan><tspan dy="-4.8">=0.5, Pr=6.2, R</tspan><tspan class="sub" dy="4.8">d</tspan><tspan dy="-4.8">=0.5</tspan></text>
<rect x="265.7" y="28.1" width="52.60" height="89.60" fill="#fff" stroke="#262626" stroke-width="1.6"/>
<line x1="268.2" y1="40.3" x2="287.8" y2="40.3" stroke="#00ffff" stroke-width="2"/>
<text class="leg" x="289.6" y="42.90" textLength="25.5" lengthAdjust="spacingAndGlyphs">N<tspan class="lsub" dx="0.2" dy="3.9">t</tspan><tspan dx="0.3" dy="-3.9">=2.0</tspan></text>
<line x1="268.2" y1="61.9" x2="287.8" y2="61.9" stroke="#ff00ff" stroke-width="2"/>
<text class="leg" x="289.6" y="64.50" textLength="25.5" lengthAdjust="spacingAndGlyphs">N<tspan class="lsub" dx="0.2" dy="3.9">t</tspan><tspan dx="0.3" dy="-3.9">=4.0</tspan></text>
<line x1="268.2" y1="83.6" x2="287.8" y2="83.6" stroke="#0000ff" stroke-width="2"/>
<text class="leg" x="289.6" y="86.20" textLength="25.5" lengthAdjust="spacingAndGlyphs">N<tspan class="lsub" dx="0.2" dy="3.9">t</tspan><tspan dx="0.3" dy="-3.9">=6.0</tspan></text>
<line x1="268.2" y1="105.4" x2="287.8" y2="105.4" stroke="#ff0000" stroke-width="2"/>
<text class="leg" x="289.6" y="108.00" textLength="25.5" lengthAdjust="spacingAndGlyphs">N<tspan class="lsub" dx="0.2" dy="3.9">t</tspan><tspan dx="0.3" dy="-3.9">=8.0</tspan></text>
<rect x="623" y="27.6" width="51.90" height="89.50" fill="#fff" stroke="#262626" stroke-width="1.6"/>
<line x1="625.3" y1="40.0" x2="644.9" y2="40.0" stroke="#00ffff" stroke-width="2"/>
<text class="leg" x="646.7" y="42.60" textLength="25.6" lengthAdjust="spacingAndGlyphs">N<tspan class="lsub" dx="0.2" dy="3.9">t</tspan><tspan dx="0.3" dy="-3.9">=0.1</tspan></text>
<line x1="625.3" y1="61.5" x2="644.9" y2="61.5" stroke="#ff00ff" stroke-width="2"/>
<text class="leg" x="646.7" y="64.10" textLength="25.6" lengthAdjust="spacingAndGlyphs">N<tspan class="lsub" dx="0.2" dy="3.9">t</tspan><tspan dx="0.3" dy="-3.9">=0.2</tspan></text>
<line x1="625.3" y1="83" x2="644.9" y2="83" stroke="#0000ff" stroke-width="2"/>
<text class="leg" x="646.7" y="85.60" textLength="25.6" lengthAdjust="spacingAndGlyphs">N<tspan class="lsub" dx="0.2" dy="3.9">t</tspan><tspan dx="0.3" dy="-3.9">=0.3</tspan></text>
<line x1="625.3" y1="104.5" x2="644.9" y2="104.5" stroke="#ff0000" stroke-width="2"/>
<text class="leg" x="646.7" y="107.10" textLength="25.6" lengthAdjust="spacingAndGlyphs">N<tspan class="lsub" dx="0.2" dy="3.9">t</tspan><tspan dx="0.3" dy="-3.9">=0.4</tspan></text>
<g stroke="#000" stroke-width="1.25" fill="none">
<line x1="148.2" y1="248.35" x2="170" y2="248.35"/>
<line x1="506.2" y1="244.35" x2="527" y2="244.35"/>
<line x1="4.7" y1="150.8" x2="4.7" y2="129"/>
<line x1="361.3" y1="151.6" x2="361.3" y2="129"/>
</g>
<g fill="#000">
<path d="M176.5,248.35 L167.2,244.75 Q169.8,248.35 167.2,251.95 Z"/>
<path d="M533.1,244.35 L524.2,240.85 Q526.8,244.35 524.2,247.85 Z"/>
<path d="M4.7,122.9 L1.0,131.6 Q4.7,129.2 8.4,131.6 Z"/>
<path d="M361.3,123 L357.7,131.4 Q361.3,129 364.9,131.4 Z"/>
</g>
<text class="axl" x="179.2" y="249.9">η</text>
<text class="axl" x="535.5" y="246.9">η</text>
<text class="ayl" transform="translate(7.7,122.2) rotate(-90)">θ(η)</text>
<text class="ayl" transform="translate(365,120.7) rotate(-90)">ϕ(η)</text>
<text class="lab" x="154.85" y="267.5">(a)</text>
<text class="lab" x="518.3" y="267.4">(b)</text>
</svg>
</body></html>
